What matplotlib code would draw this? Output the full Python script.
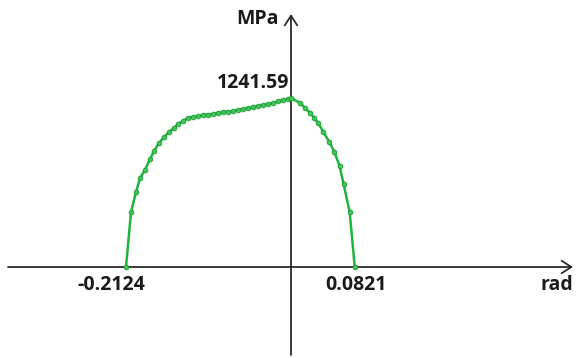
import matplotlib
matplotlib.use("Agg")
import matplotlib.pyplot as plt

# Strain (rad) and stress (MPa) along the curve, left branch then right branch
strain = [
    -0.2124, -0.2059, -0.1995, -0.1943, -0.1879, -0.1815, -0.1763, -0.1699,
    -0.1634, -0.1570, -0.1506, -0.1454, -0.1390, -0.1326, -0.1261, -0.1197,
    -0.1133, -0.1068, -0.1004, -0.0940, -0.0875, -0.0811, -0.0746, -0.0682,
    -0.0618, -0.0553, -0.0489, -0.0425, -0.0360, -0.0296, -0.0232, -0.0167,
    -0.0103, -0.0039, 0.0,
    0.0117, 0.0182, 0.0247, 0.0299, 0.0351, 0.0416, 0.0494, 0.0559,
    0.0625, 0.0677, 0.0755, 0.0821,
]
stress = [
    0, 404, 551, 654, 713, 793, 852, 911,
    955, 992, 1021, 1051, 1073, 1095, 1102, 1109,
    1117, 1120, 1124, 1131, 1139, 1142, 1146, 1153,
    1161, 1168, 1175, 1183, 1190, 1198, 1205, 1216,
    1227, 1234, 1241.59,
    1205, 1168, 1131, 1095, 1058, 992, 918, 845,
    742, 610, 404, 0,
]

x_min_label = "-0.2124"
x_max_label = "0.0821"
peak_label = "1241.59"
x_unit = "rad"
y_unit = "MPa"

# Per-pixel scale of the drawing (origin placed at pixel 291, 267)
sx = 0.2124 / 165.0
sy = 1241.59 / 169.0
W, H = 579, 358
ox, oy = 291, 267

fig = plt.figure(figsize=(W / 100, H / 100), dpi=100)
ax = fig.add_axes([0, 0, 1, 1])
ax.set_xlim(-ox * sx, (W - ox) * sx)
ax.set_ylim(-(H - oy) * sy, oy * sy)
ax.axis("off")

axis_color = "#2b2b2b"
arrow = dict(arrowstyle="->,head_length=0.7,head_width=0.45",
             color=axis_color, lw=1.3, shrinkA=0, shrinkB=0)
# horizontal axis
ax.annotate("", xy=((573 - ox) * sx, 0), xytext=((8 - ox) * sx, 0),
            arrowprops=arrow)
# vertical axis
ax.annotate("", xy=(0, (oy - 14) * sy), xytext=(0, (oy - 355) * sy),
            arrowprops=arrow)

ax.plot(strain, stress, color="#1fb53c", lw=1.8, marker="o", ms=3.4,
        mfc="#45c35c", mec="#1a9e33", mew=0.6, zorder=3)

font = dict(family="Open Sans", fontweight="bold", fontsize=14,
            color="#1a1a1a")
ax.text(strain[0] - 15 * sx, -18 * sy, x_min_label, ha="center",
        va="center", **font)
ax.text(strain[-1] + 1 * sx, -18 * sy, x_max_label, ha="center",
        va="center", **font)
peak_i = stress.index(max(stress))
ax.text(strain[peak_i] - 2 * sx, max(stress) + 15 * sy, peak_label,
        ha="right", va="center", **font)
ax.text((557 - ox) * sx, -18 * sy, x_unit, ha="center", va="center", **font)
ax.text(-12 * sx, (oy - 19) * sy, y_unit, ha="right", va="center", **font)

fig.savefig("out.png", dpi=100)
